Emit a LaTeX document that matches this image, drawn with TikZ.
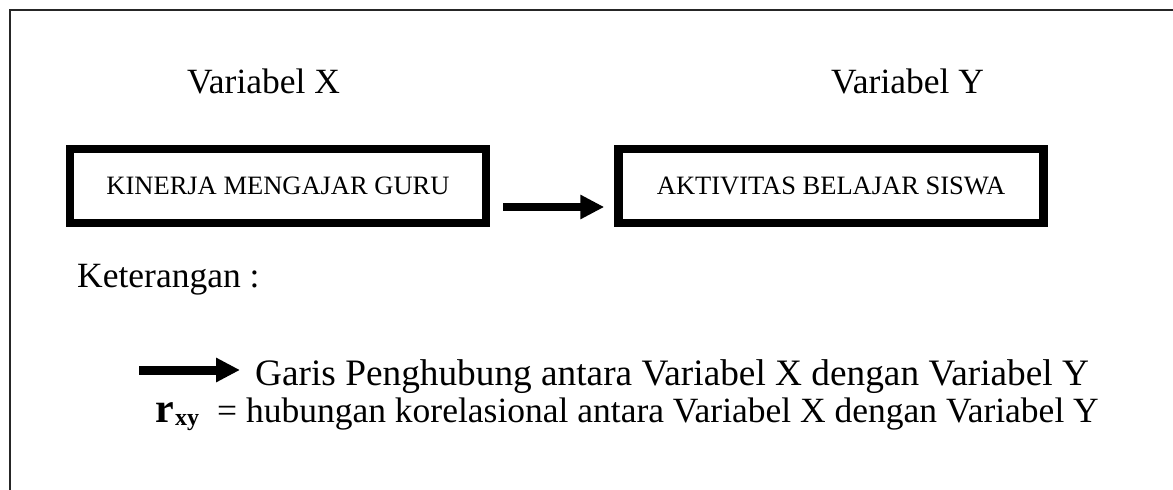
\documentclass[tikz,border=0pt]{standalone}
\usepackage{fontspec}
\setmainfont{Liberation Serif}
\usetikzlibrary{arrows.meta}
\begin{document}
\begin{tikzpicture}[x=1pt,y=-1pt,
 lbl/.style={inner sep=0pt, anchor=base west, font=\fontsize{35.5}{40}\selectfont},
 varbox/.style={draw, line width=8.5pt, minimum height=74pt, inner sep=0pt, font=\fontsize{26.5}{30}\selectfont},
 conn/.style={line width=8pt, -{Triangle[length=24pt,width=23pt]}},
 frameline/.style={line width=2pt, draw=black!85}]
\useasboundingbox (0,0) rectangle (1173,490);
\coordinate (ftl) at (9.5,9.5);
\coordinate (ftr) at (1173,9.5);
\coordinate (fbl) at (9.5,490);
\draw[frameline] (ftr) -- (ftl) -- (fbl);
\node[lbl] (vx) at (187,93) {Variabel X};
\node[lbl] (vy) at (831,93) {Variabel Y};
\node[varbox, minimum width=416pt] (b1) at (278,186) {KINERJA MENGAJAR GURU};
\node[varbox, minimum width=425pt] (b2) at (831,186) {AKTIVITAS BELAJAR SISWA};
\draw[conn] ([shift={(13pt,-21pt)}]b1.east) -- ([shift={(-10pt,-21pt)}]b2.west);
\node[lbl] (ket) at (77,287) {Keterangan :};
\coordinate (la) at (139,370);
\coordinate (lb) at (240,370);
\draw[conn, line width=9pt] (la) -- (lb);
\node[lbl, font=\fontsize{37.3}{42}\selectfont] (garis) at (255,385) {Garis Penghubung antara Variabel X dengan Variabel Y};
\node[inner sep=0pt, anchor=base west, font=\fontsize{42}{46}\selectfont\bfseries] (r) at (155,422) {r};
\node[inner sep=0pt, anchor=base west, font=\fontsize{24}{28}\selectfont\bfseries] (xy) at ([shift={(1pt,-3pt)}]r.base east) {xy};
\node[lbl] (def) at (217,422) {= hubungan korelasional antara Variabel X dengan Variabel Y};
\end{tikzpicture}
\end{document}
